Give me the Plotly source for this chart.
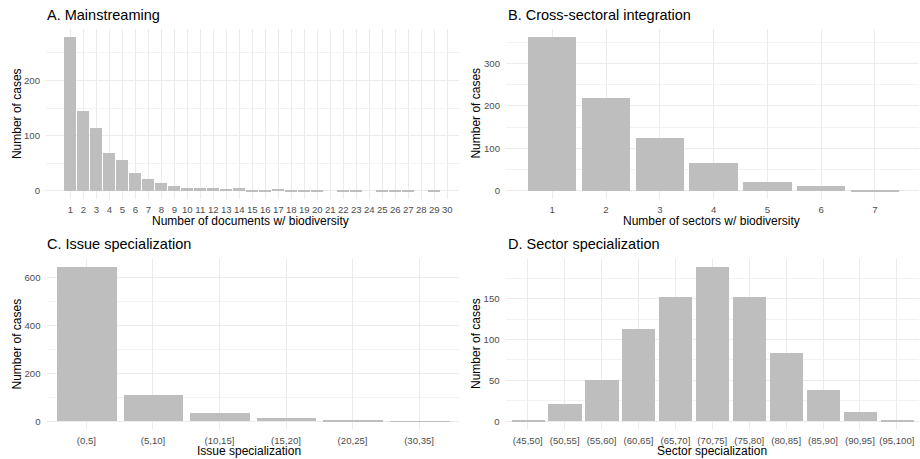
import plotly.graph_objects as go

# ---------------- data ----------------
docs_n = list(range(1, 31))
docs_cases = [280, 146, 114, 69, 57, 34, 22, 16, 10, 7, 7, 7, 5, 6, 3, 2, 4, 3, 1, 1,
              0, 2, 1, 0, 2, 1, 2, 0, 1, 0]

sectors_n = [1, 2, 3, 4, 5, 6, 7]
sectors_cases = [364, 219, 126, 67, 23, 13, 2]

issue_bins = ["(0,5]", "(5,10]", "(10,15]", "(15,20]", "(20,25]", "(30,35]"]
issue_cases = [646, 111, 36, 13, 2, 1]

sector_bins = ["(45,50]", "(50,55]", "(55,60]", "(60,65]", "(65,70]", "(70,75]",
               "(75,80]", "(80,85]", "(85,90]", "(90,95]", "(95,100]"]
sector_cases = [1, 21, 51, 113, 152, 189, 152, 83, 38, 11, 2]

titles = ["A. Mainstreaming", "B. Cross-sectoral integration",
          "C. Issue specialization", "D. Sector specialization"]
xtitles = ["Number of documents w/ biodiversity", "Number of sectors w/ biodiversity",
           "Issue specialization", "Sector specialization"]
ytitle = "Number of cases"

# ---------------- styling ----------------
W, H = 920, 459
FONT = "Liberation Sans, Arial, Helvetica, sans-serif"
BAR = "#BEBEBE"
GRID = "#EBEBEB"
MINOR = "#F2F2F2"
TICKC = "#4D4D4D"


def px(x):
    return x / W


def py(y):
    return 1 - y / H


# panel pixel boxes (left, right, top, bottom)
boxes = [(46, 459, 28.5, 198.7), (506, 919, 28.5, 198.7),
         (46.5, 459, 259, 429), (505.6, 919, 259, 429)]

fig = go.Figure()

series = [(docs_n, docs_cases), (sectors_n, sectors_cases),
          (issue_bins, issue_cases), (sector_bins, sector_cases)]
for i, (xs, ys) in enumerate(series):
    sfx = "" if i == 0 else str(i + 1)
    fig.add_trace(go.Bar(x=xs, y=ys, width=0.9, marker=dict(color=BAR, line=dict(width=0)),
                         xaxis="x" + sfx, yaxis="y" + sfx, showlegend=False))

ydticks = [100, 100, 200, 50]
xranges = [[-0.87, 30.9], [0.14, 7.82], [-0.6, len(issue_bins) - 0.4],
           [-0.6, len(sector_bins) - 0.4]]
ymaxes = [max(docs_cases), max(sectors_cases), max(issue_cases), max(sector_cases)]

layout = dict(width=W, height=H, margin=dict(l=0, r=0, t=0, b=0),
              paper_bgcolor="white", plot_bgcolor="white",
              font=dict(family=FONT, color="black"), bargap=0, annotations=[])

for i in range(4):
    sfx = "" if i == 0 else str(i + 1)
    l, r, t, b = boxes[i]
    xa = dict(domain=[px(l), px(r)], range=xranges[i], showgrid=True, gridcolor=GRID,
              gridwidth=1, zeroline=False, showline=False, ticks="", ticklen=0,
              tickangle=0, automargin=False,
              tickfont=dict(size=9.6, color=TICKC, family=FONT),
              anchor="y" + sfx, ticklabelstandoff=4)
    if i == 0:
        xa.update(tickmode="array", tickvals=docs_n, ticktext=[str(v) for v in docs_n])
    elif i == 1:
        xa.update(tickmode="array", tickvals=sectors_n, ticktext=[str(v) for v in sectors_n])
    else:
        xa.update(type="category")
    m = ymaxes[i]
    ya = dict(domain=[py(b), py(t)], range=[-0.05 * m, 1.05 * m], showgrid=True,
              gridcolor=GRID, gridwidth=1, zeroline=False, showline=False, ticks="",
              ticklen=0, automargin=False,
              dtick=ydticks[i], tick0=0,
              minor=dict(dtick=ydticks[i] / 2, tick0=0, showgrid=True, gridcolor=MINOR,
                         gridwidth=0.6),
              tickfont=dict(size=9.6, color=TICKC, family=FONT),
              anchor="x" + sfx, ticklabelstandoff=5)
    layout["xaxis" + sfx] = xa
    layout["yaxis" + sfx] = ya

# titles
title_pos = [(45, 15), (505.7, 15), (45, 244), (505.7, 244)]
for (x, y), txt in zip(title_pos, titles):
    layout["annotations"].append(dict(text=txt, x=px(x), y=py(y), xref="paper", yref="paper",
                                      xanchor="left", yanchor="middle", showarrow=False,
                                      font=dict(size=14.5, color="black", family=FONT)))
# x titles
xt_pos = [(250, 221), (711, 221), (249, 451), (712, 451)]
for (x, y), txt in zip(xt_pos, xtitles):
    layout["annotations"].append(dict(text=txt, x=px(x), y=py(y), xref="paper", yref="paper",
                                      xanchor="center", yanchor="middle", showarrow=False,
                                      font=dict(size=12, color="black", family=FONT)))
# y titles
yt_pos = [(16.5, 113.6), (476, 113.6), (16.5, 344), (476, 344)]
for (x, y) in yt_pos:
    layout["annotations"].append(dict(text=ytitle, x=px(x), y=py(y), xref="paper", yref="paper",
                                      xanchor="center", yanchor="middle", showarrow=False,
                                      textangle=-90,
                                      font=dict(size=12, color="black", family=FONT)))

fig.update_layout(**layout)
fig.write_html("out.html", config={"displayModeBar": False},
               post_script="document.body.style.margin='0';document.body.style.overflow='hidden';")
